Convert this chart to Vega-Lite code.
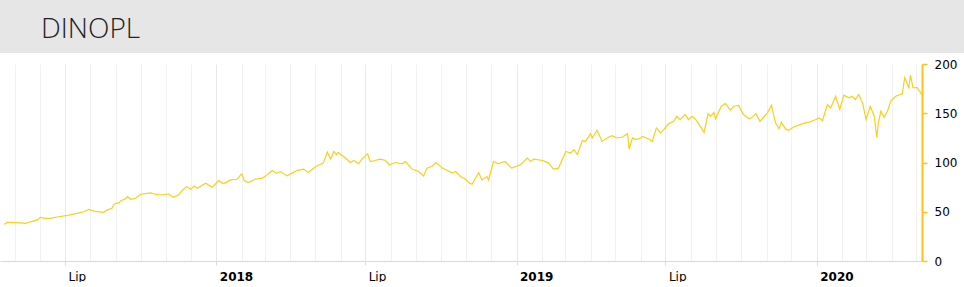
{
  "$schema": "https://vega.github.io/schema/vega-lite/v6.json",
  "padding": 0,
  "spacing": 5,
  "background": "white",
  "config": {"font": "DejaVu Sans"},
  "datasets": {
    "header": [{"name": "DINOPL"}],
    "prices": [
      {"date": "2017-04-18", "close": 37.4}, {"date": "2017-04-22", "close": 39.2}, {"date": "2017-05-08", "close": 38.8},
      {"date": "2017-05-14", "close": 38.2}, {"date": "2017-05-20", "close": 39.8}, {"date": "2017-05-28", "close": 41.5},
      {"date": "2017-06-01", "close": 44.3}, {"date": "2017-06-07", "close": 43.3}, {"date": "2017-06-13", "close": 43.3},
      {"date": "2017-06-23", "close": 44.9}, {"date": "2017-07-04", "close": 46.3}, {"date": "2017-07-16", "close": 48.4},
      {"date": "2017-07-24", "close": 50.0}, {"date": "2017-07-30", "close": 52.4}, {"date": "2017-08-05", "close": 50.7},
      {"date": "2017-08-17", "close": 49.4}, {"date": "2017-08-21", "close": 51.7}, {"date": "2017-08-27", "close": 53.5},
      {"date": "2017-08-30", "close": 57.9}, {"date": "2017-09-05", "close": 59.2}, {"date": "2017-09-07", "close": 61.2},
      {"date": "2017-09-13", "close": 63.3}, {"date": "2017-09-15", "close": 65.3}, {"date": "2017-09-19", "close": 62.7},
      {"date": "2017-09-25", "close": 63.7}, {"date": "2017-10-01", "close": 67.8}, {"date": "2017-10-13", "close": 69.1},
      {"date": "2017-10-19", "close": 67.8}, {"date": "2017-10-25", "close": 67.0}, {"date": "2017-11-04", "close": 68.0},
      {"date": "2017-11-10", "close": 64.7}, {"date": "2017-11-16", "close": 67.0}, {"date": "2017-11-22", "close": 72.9},
      {"date": "2017-11-26", "close": 75.5}, {"date": "2017-12-01", "close": 72.9}, {"date": "2017-12-05", "close": 76.2},
      {"date": "2017-12-09", "close": 73.9}, {"date": "2017-12-19", "close": 79.0}, {"date": "2017-12-27", "close": 74.9},
      {"date": "2018-01-04", "close": 81.6}, {"date": "2018-01-10", "close": 78.3}, {"date": "2018-01-18", "close": 82.3},
      {"date": "2018-01-26", "close": 83.0}, {"date": "2018-02-01", "close": 88.5}, {"date": "2018-02-04", "close": 81.6},
      {"date": "2018-02-09", "close": 79.6}, {"date": "2018-02-17", "close": 83.0}, {"date": "2018-02-26", "close": 84.1},
      {"date": "2018-03-04", "close": 87.5}, {"date": "2018-03-10", "close": 91.8}, {"date": "2018-03-15", "close": 89.2},
      {"date": "2018-03-20", "close": 90.8}, {"date": "2018-03-28", "close": 86.4}, {"date": "2018-04-03", "close": 89.2},
      {"date": "2018-04-09", "close": 91.8}, {"date": "2018-04-17", "close": 93.3}, {"date": "2018-04-23", "close": 89.8},
      {"date": "2018-05-02", "close": 96.0}, {"date": "2018-05-07", "close": 98.0}, {"date": "2018-05-11", "close": 99.4},
      {"date": "2018-05-16", "close": 110.6}, {"date": "2018-05-20", "close": 103.5}, {"date": "2018-05-24", "close": 111.2},
      {"date": "2018-05-27", "close": 107.9}, {"date": "2018-05-29", "close": 110.2}, {"date": "2018-06-07", "close": 104.5},
      {"date": "2018-06-13", "close": 100.0}, {"date": "2018-06-17", "close": 102.0}, {"date": "2018-06-23", "close": 98.7},
      {"date": "2018-06-27", "close": 103.5}, {"date": "2018-07-04", "close": 108.9}, {"date": "2018-07-07", "close": 101.0},
      {"date": "2018-07-13", "close": 102.0}, {"date": "2018-07-19", "close": 103.5}, {"date": "2018-07-26", "close": 102.0},
      {"date": "2018-07-30", "close": 97.7}, {"date": "2018-08-07", "close": 100.0}, {"date": "2018-08-15", "close": 98.7},
      {"date": "2018-08-19", "close": 101.0}, {"date": "2018-08-27", "close": 93.3}, {"date": "2018-09-04", "close": 90.8},
      {"date": "2018-09-10", "close": 86.4}, {"date": "2018-09-14", "close": 94.3}, {"date": "2018-09-20", "close": 95.9},
      {"date": "2018-09-25", "close": 100.0}, {"date": "2018-10-03", "close": 94.3}, {"date": "2018-10-09", "close": 91.8},
      {"date": "2018-10-15", "close": 89.2}, {"date": "2018-10-19", "close": 90.8}, {"date": "2018-10-25", "close": 85.7},
      {"date": "2018-10-31", "close": 83.0}, {"date": "2018-11-05", "close": 79.0}, {"date": "2018-11-08", "close": 78.0},
      {"date": "2018-11-12", "close": 84.0}, {"date": "2018-11-16", "close": 89.5}, {"date": "2018-11-20", "close": 82.3},
      {"date": "2018-11-26", "close": 85.7}, {"date": "2018-11-28", "close": 82.3}, {"date": "2018-12-04", "close": 101.0},
      {"date": "2018-12-10", "close": 98.7}, {"date": "2018-12-18", "close": 101.0}, {"date": "2018-12-26", "close": 94.3},
      {"date": "2019-01-06", "close": 97.7}, {"date": "2019-01-14", "close": 104.5}, {"date": "2019-01-18", "close": 101.0},
      {"date": "2019-01-22", "close": 103.5}, {"date": "2019-02-02", "close": 102.0}, {"date": "2019-02-09", "close": 99.4},
      {"date": "2019-02-15", "close": 93.3}, {"date": "2019-02-21", "close": 94.3}, {"date": "2019-03-02", "close": 111.2},
      {"date": "2019-03-08", "close": 109.6}, {"date": "2019-03-12", "close": 113.0}, {"date": "2019-03-16", "close": 107.9},
      {"date": "2019-03-22", "close": 122.4}, {"date": "2019-03-26", "close": 121.4}, {"date": "2019-04-01", "close": 129.3},
      {"date": "2019-04-03", "close": 124.9}, {"date": "2019-04-09", "close": 132.7}, {"date": "2019-04-15", "close": 121.4},
      {"date": "2019-04-21", "close": 124.9}, {"date": "2019-04-27", "close": 127.2}, {"date": "2019-05-03", "close": 124.9},
      {"date": "2019-05-10", "close": 125.9}, {"date": "2019-05-16", "close": 129.3}, {"date": "2019-05-18", "close": 113.7},
      {"date": "2019-05-22", "close": 124.9}, {"date": "2019-05-26", "close": 123.2}, {"date": "2019-06-01", "close": 124.9},
      {"date": "2019-06-03", "close": 126.5}, {"date": "2019-06-11", "close": 123.9}, {"date": "2019-06-15", "close": 121.4},
      {"date": "2019-06-20", "close": 135.1}, {"date": "2019-06-25", "close": 130.0}, {"date": "2019-06-29", "close": 133.4},
      {"date": "2019-07-05", "close": 139.5}, {"date": "2019-07-11", "close": 141.8}, {"date": "2019-07-15", "close": 146.9},
      {"date": "2019-07-19", "close": 143.6}, {"date": "2019-07-25", "close": 148.7}, {"date": "2019-07-29", "close": 143.6},
      {"date": "2019-08-03", "close": 146.9}, {"date": "2019-08-07", "close": 143.6}, {"date": "2019-08-15", "close": 133.4},
      {"date": "2019-08-17", "close": 130.6}, {"date": "2019-08-22", "close": 149.7}, {"date": "2019-08-25", "close": 146.9},
      {"date": "2019-08-29", "close": 151.0}, {"date": "2019-08-31", "close": 144.3}, {"date": "2019-09-07", "close": 157.1},
      {"date": "2019-09-12", "close": 159.9}, {"date": "2019-09-18", "close": 153.1}, {"date": "2019-09-22", "close": 157.1},
      {"date": "2019-09-28", "close": 157.9}, {"date": "2019-10-04", "close": 148.7}, {"date": "2019-10-11", "close": 144.3},
      {"date": "2019-10-15", "close": 146.3}, {"date": "2019-10-19", "close": 149.7}, {"date": "2019-10-24", "close": 141.8},
      {"date": "2019-11-02", "close": 150.4}, {"date": "2019-11-07", "close": 157.9}, {"date": "2019-11-10", "close": 146.9},
      {"date": "2019-11-12", "close": 140.2}, {"date": "2019-11-16", "close": 134.1}, {"date": "2019-11-19", "close": 140.8},
      {"date": "2019-11-24", "close": 134.1}, {"date": "2019-11-28", "close": 132.7}, {"date": "2019-12-04", "close": 136.1},
      {"date": "2019-12-12", "close": 138.5}, {"date": "2019-12-18", "close": 140.2}, {"date": "2019-12-24", "close": 141.2},
      {"date": "2019-12-31", "close": 143.6}, {"date": "2020-01-04", "close": 145.3}, {"date": "2020-01-08", "close": 142.5},
      {"date": "2020-01-14", "close": 158.9}, {"date": "2020-01-18", "close": 155.5}, {"date": "2020-01-24", "close": 167.3},
      {"date": "2020-01-29", "close": 153.8}, {"date": "2020-02-03", "close": 168.4}, {"date": "2020-02-09", "close": 165.7},
      {"date": "2020-02-13", "close": 167.3}, {"date": "2020-02-17", "close": 164.0}, {"date": "2020-02-21", "close": 169.0},
      {"date": "2020-02-26", "close": 159.6}, {"date": "2020-03-01", "close": 143.6}, {"date": "2020-03-06", "close": 157.1},
      {"date": "2020-03-11", "close": 146.9}, {"date": "2020-03-14", "close": 125.5}, {"date": "2020-03-16", "close": 140.2},
      {"date": "2020-03-19", "close": 152.0}, {"date": "2020-03-23", "close": 146.0}, {"date": "2020-03-27", "close": 152.0},
      {"date": "2020-03-31", "close": 162.3}, {"date": "2020-04-06", "close": 167.3}, {"date": "2020-04-14", "close": 169.8},
      {"date": "2020-04-17", "close": 186.1}, {"date": "2020-04-22", "close": 175.9}, {"date": "2020-04-24", "close": 188.8},
      {"date": "2020-04-27", "close": 175.9}, {"date": "2020-05-02", "close": 176.0}, {"date": "2020-05-05", "close": 172.5},
      {"date": "2020-05-08", "close": 169.0}
    ]
  },
  "vconcat": [
    {
      "width": 964,
      "height": 53,
      "data": {"name": "header"},
      "view": {"stroke": null, "fill": "#e6e6e6"},
      "title": {
        "text": "DINOPL",
        "orient": "bottom",
        "anchor": "start",
        "frame": "group",
        "offset": -15,
        "baseline": "alphabetic",
        "dx": 41,
        "font": "Open Sans",
        "fontSize": 28,
        "fontWeight": 300,
        "color": "#222222"
      },
      "mark": {"type": "rect", "fill": "#e6e6e6"},
      "encoding": {}
    },
    {
      "width": 922,
      "height": 197,
      "data": {"name": "prices"},
      "view": {"stroke": null},
      "mark": {"type": "line", "color": "#f5d11c", "strokeWidth": 1.2},
      "encoding": {
        "x": {
          "field": "date",
          "type": "temporal",
          "scale": {"type": "utc", "domain": ["2017-04-13", "2020-05-08"], "nice": false},
          "axis": {
            "title": null,
            "tickCount": {"interval": "month", "step": 1},
            "labelExpr": "utcmonth(datum.value) == 0 ? utcFormat(datum.value, '%Y') : (utcmonth(datum.value) == 6 ? 'Lip' : '')",
            "labelFontWeight": {"expr": "utcmonth(datum.value) == 0 ? 'bold' : 'normal'"},
            "labelAlign": "left",
            "labelOffset": 3,
            "labelPadding": 6,
            "labelFontSize": 12,
            "labelColor": "#000000",
            "labelFont": "DejaVu Sans",
            "labelOverlap": false,
            "labelBound": false,
            "labelFlush": false,
            "grid": true,
            "gridColor": {"expr": "utcmonth(datum.value) % 6 == 0 ? '#e8e8e8' : '#f1f1f1'"},
            "gridWidth": 1,
            "domainColor": "#d9d9d9",
            "domainWidth": 1,
            "tickColor": "#d9d9d9",
            "tickSize": 4,
            "tickOpacity": {"expr": "utcmonth(datum.value) % 6 == 0 ? 1 : 0"}
          }
        },
        "y": {
          "field": "close",
          "type": "quantitative",
          "scale": {"domain": [0, 200], "nice": false},
          "axis": {
            "title": null,
            "orient": "right",
            "values": [0, 50, 100, 150, 200],
            "grid": false,
            "domainColor": "#f8c41a",
            "domainWidth": 2,
            "tickColor": "#f8c41a",
            "tickWidth": 1.5,
            "tickSize": 5,
            "labelPadding": 7,
            "labelFontSize": 12,
            "labelColor": "#000000",
            "labelFont": "DejaVu Sans"
          }
        }
      }
    }
  ]
}
